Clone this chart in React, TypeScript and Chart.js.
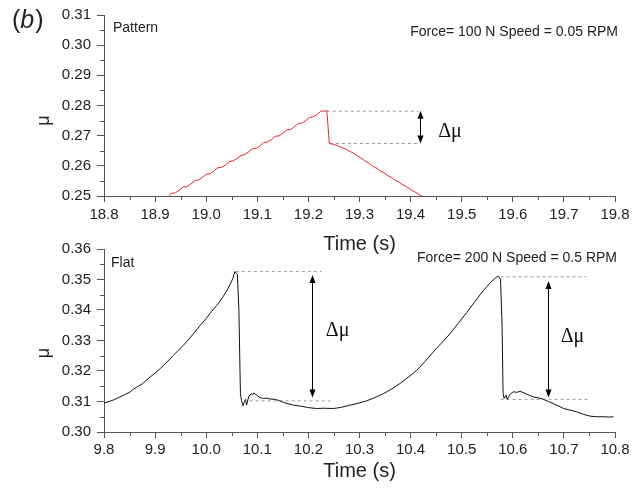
import React, { useEffect, useRef } from "react";
import { Chart, registerables } from "chart.js";

Chart.register(...registerables);

// ---------- data: panel (b) top, "Pattern" ----------
const patternTime = [
  18.927, 18.932, 18.94, 18.948, 18.955, 18.962, 18.97, 18.978, 18.985, 18.992,
  19.0, 19.008, 19.015, 19.022, 19.03, 19.038, 19.045, 19.052, 19.06, 19.068,
  19.075, 19.082, 19.09, 19.098, 19.105, 19.112, 19.12, 19.128, 19.135, 19.142,
  19.15, 19.158, 19.165, 19.172, 19.18, 19.188, 19.195, 19.202, 19.21, 19.218,
  19.225, 19.23, 19.236, 19.238, 19.241, 19.25, 19.258, 19.265, 19.272, 19.28,
  19.288, 19.295, 19.302, 19.31, 19.318, 19.325, 19.332, 19.34, 19.348, 19.355,
  19.362, 19.37, 19.378, 19.385, 19.392, 19.4, 19.408, 19.415, 19.422,
];
const patternMu = [
  0.2502, 0.2508, 0.2511, 0.252, 0.253, 0.2531, 0.254, 0.2551, 0.2553, 0.2561,
  0.2572, 0.2574, 0.2583, 0.2593, 0.2595, 0.2603, 0.2614, 0.2616, 0.2624, 0.2635,
  0.2637, 0.2645, 0.2656, 0.2658, 0.2666, 0.2677, 0.2679, 0.2687, 0.2698, 0.2699,
  0.2708, 0.2719, 0.272, 0.2729, 0.274, 0.2742, 0.275, 0.276, 0.2763, 0.2771,
  0.2782, 0.2781, 0.2783, 0.274, 0.2674, 0.2671, 0.2666, 0.2661, 0.2656, 0.2649,
  0.2642, 0.2634, 0.2627, 0.2617, 0.2609, 0.26, 0.2594, 0.2584, 0.2577, 0.2568,
  0.2562, 0.2552, 0.2546, 0.2537, 0.2531, 0.2521, 0.2514, 0.2506, 0.25,
];

// ---------- data: panel (b) bottom, "Flat" ----------
const flatTime = [
  9.8, 9.81, 9.82, 9.831, 9.84, 9.85, 9.857, 9.865, 9.875, 9.89,
  9.9, 9.91, 9.923, 9.935, 9.945, 9.955, 9.965, 9.975, 9.988, 10.0,
  10.01, 10.02, 10.03, 10.04, 10.047, 10.052, 10.056, 10.061, 10.064, 10.067,
  10.069, 10.072, 10.075, 10.077, 10.079, 10.083, 10.088, 10.091, 10.093, 10.096,
  10.099, 10.105, 10.112, 10.118, 10.125, 10.135, 10.143, 10.151, 10.16, 10.171,
  10.184, 10.2, 10.216, 10.23, 10.249, 10.265, 10.281, 10.297, 10.314, 10.33,
  10.347, 10.363, 10.379, 10.395, 10.412, 10.428, 10.444, 10.46, 10.477, 10.493,
  10.51, 10.526, 10.542, 10.555, 10.568, 10.572, 10.576, 10.579, 10.581, 10.583,
  10.587, 10.589, 10.595, 10.601, 10.607, 10.614, 10.62, 10.627, 10.633, 10.64,
  10.65, 10.66, 10.67, 10.679, 10.69, 10.699, 10.712, 10.725, 10.738, 10.751,
  10.765, 10.777, 10.79, 10.797,
];
const flatMu = [
  0.3095, 0.31, 0.3106, 0.3115, 0.3122, 0.313, 0.314, 0.3148, 0.3158, 0.318,
  0.3193, 0.3208, 0.3229, 0.325, 0.3267, 0.3284, 0.3302, 0.3322, 0.3349, 0.3372,
  0.3394, 0.3414, 0.3436, 0.3462, 0.3485, 0.3503, 0.3526, 0.3517, 0.34, 0.3126,
  0.3104, 0.3086, 0.31, 0.3107, 0.3088, 0.3115, 0.3126, 0.3122, 0.3128, 0.3124,
  0.3121, 0.3113, 0.311, 0.3111, 0.3108, 0.3107, 0.3103, 0.3097, 0.3093, 0.3088,
  0.3085, 0.308, 0.3077, 0.3078, 0.3077, 0.3081, 0.3088, 0.3094, 0.3102, 0.3113,
  0.3126, 0.3141, 0.3159, 0.3179, 0.3202, 0.3231, 0.3262, 0.3291, 0.3322, 0.3356,
  0.3392, 0.3428, 0.3463, 0.3488, 0.3508, 0.351, 0.3501, 0.335, 0.3126, 0.311,
  0.3121, 0.3107, 0.3124, 0.3132, 0.313, 0.3133, 0.313, 0.3124, 0.312, 0.3115,
  0.3112, 0.3107, 0.31, 0.3093, 0.3085, 0.3077, 0.3072, 0.3066, 0.3058, 0.3052,
  0.305, 0.305, 0.3049, 0.305,
];

// ---------- tick labels ----------
const patternXTicks = [18.8, 18.9, 19.0, 19.1, 19.2, 19.3, 19.4, 19.5, 19.6, 19.7, 19.8];
const patternYTicks = [0.25, 0.26, 0.27, 0.28, 0.29, 0.3, 0.31];
const flatXTicks = [9.8, 9.9, 10.0, 10.1, 10.2, 10.3, 10.4, 10.5, 10.6, 10.7, 10.8];
const flatYTicks = [0.3, 0.31, 0.32, 0.33, 0.34, 0.35, 0.36];

// ---------- Δμ annotations: dashed levels [x0, x1, μ], arrows [x, μtop, μbottom], labels [x, μ] ----------
const patternDashes = [
  [19.236, 19.415, 0.2781],
  [19.242, 19.415, 0.2674],
];
const patternArrows = [[19.419, 0.2783, 0.2674]];
const patternDeltaLabels = [[19.454, 0.2712]];

const flatDashes = [
  [10.058, 10.226, 0.3526],
  [10.085, 10.246, 0.3102],
  [10.576, 10.744, 0.3509],
  [10.576, 10.751, 0.3107],
];
const flatArrows = [
  [10.208, 0.3515, 0.3113],
  [10.6695, 0.3495, 0.3113],
];
const flatDeltaLabels = [
  [10.234, 0.3333],
  [10.6937, 0.3311],
];

const SANS = "'Liberation Sans', Arial, Helvetica, sans-serif";
const SERIF = "'Liberation Serif', 'Times New Roman', serif";
const AXIS = "#555";
const TEXT = "#222";

const decorPlugin = {
  id: "decor",
  afterDatasetsDraw(chart: any, _args: any, opts: any) {
    const ctx = chart.ctx;
    const xs = chart.scales.x;
    const ys = chart.scales.y;
    const area = chart.chartArea;
    ctx.save();
    // minor ticks
    ctx.strokeStyle = AXIS;
    ctx.lineWidth = 1;
    ctx.beginPath();
    const xt = opts.xTicks;
    for (let i = 0; i < xt.length - 1; i++) {
      const px = Math.round(xs.getPixelForValue((xt[i] + xt[i + 1]) / 2)) + 0.5;
      ctx.moveTo(px, area.bottom);
      ctx.lineTo(px, area.bottom + 4);
    }
    const yt = opts.yTicks;
    for (let i = 0; i < yt.length - 1; i++) {
      const py = Math.round(ys.getPixelForValue((yt[i] + yt[i + 1]) / 2)) + 0.5;
      ctx.moveTo(area.left, py);
      ctx.lineTo(area.left - 4, py);
    }
    ctx.stroke();

    // arrows
    ctx.strokeStyle = "#000";
    ctx.fillStyle = "#000";
    const head = 8;
    const hw = 3;
    for (const [x, yTop, yBot] of opts.arrows) {
      const px = Math.round(xs.getPixelForValue(x)) + 0.5;
      const pt = ys.getPixelForValue(yTop);
      const pb = ys.getPixelForValue(yBot);
      ctx.beginPath();
      ctx.moveTo(px, pt + head - 1);
      ctx.lineTo(px, pb - head + 1);
      ctx.stroke();
      ctx.beginPath();
      ctx.moveTo(px, pt);
      ctx.lineTo(px - hw, pt + head);
      ctx.lineTo(px + hw, pt + head);
      ctx.closePath();
      ctx.fill();
      ctx.beginPath();
      ctx.moveTo(px, pb);
      ctx.lineTo(px - hw, pb - head);
      ctx.lineTo(px + hw, pb - head);
      ctx.closePath();
      ctx.fill();
    }

    // Δμ labels
    ctx.font = `20px ${SERIF}`;
    ctx.textBaseline = "middle";
    ctx.textAlign = "left";
    ctx.fillStyle = "#111";
    for (const [x, y] of opts.deltaLabels) {
      ctx.fillText("Δμ", xs.getPixelForValue(x), ys.getPixelForValue(y));
    }

    // panel labels
    ctx.fillStyle = TEXT;
    ctx.font = `14px ${SANS}`;
    ctx.textAlign = "left";
    ctx.fillText(opts.name, area.left + opts.nameDx, area.top + opts.nameDy);
    ctx.textAlign = "right";
    ctx.fillText(opts.condition, area.right + opts.condDx, area.top + opts.condDy);

    if (opts.panel) {
      ctx.textAlign = "left";
      ctx.font = `25px ${SANS}`;
      let x = 12;
      const y = 21;
      ctx.fillText("(", x, y);
      x += ctx.measureText("(").width;
      ctx.font = `italic 25px ${SANS}`;
      ctx.fillText("b", x, y);
      x += ctx.measureText("b").width + 1;
      ctx.font = `25px ${SANS}`;
      ctx.fillText(")", x, y);
    }
    ctx.restore();
  },
};

function buildConfig(p: any) {
  const main = {
    data: p.time.map((t: number, i: number) => ({ x: t, y: p.mu[i] })),
    borderColor: p.color,
    borderWidth: 1,
    pointRadius: 0,
    tension: 0,
    fill: false,
    order: 0,
  };
  const dashes = p.dashes.map(([x0, x1, y]: number[]) => ({
    data: [
      { x: x0, y },
      { x: x1, y },
    ],
    borderColor: "#9a9a9a",
    borderWidth: 1,
    borderDash: [3, 3],
    pointRadius: 0,
    fill: false,
    order: 1,
  }));
  return {
    type: "line",
    data: { datasets: [main, ...dashes] },
    options: {
      responsive: false,
      animation: false,
      events: [],
      layout: { padding: { top: 14, right: 25, bottom: 0, left: 0 }, autoPadding: false },
      plugins: {
        legend: { display: false },
        tooltip: { enabled: false },
        decor: {
          xTicks: p.xTicks,
          yTicks: p.yTicks,
          arrows: p.arrows,
          deltaLabels: p.deltaLabels,
          name: p.name,
          nameDx: p.nameDx,
          nameDy: p.nameDy,
          condition: p.condition,
          condDx: p.condDx,
          condDy: p.condDy,
          panel: p.panel,
        },
      },
      scales: {
        x: {
          type: "linear",
          min: p.xTicks[0],
          max: p.xTicks[p.xTicks.length - 1],
          afterBuildTicks: (s: any) => {
            s.ticks = p.xTicks.map((v: number) => ({ value: v }));
          },
          afterFit: (s: any) => {
            s.height = p.xHeight;
          },
          grid: { drawOnChartArea: false, drawTicks: true, tickLength: 6, color: AXIS, tickColor: AXIS },
          border: { display: true, color: AXIS, width: 1 },
          ticks: {
            padding: p.xPad,
            autoSkip: false,
            maxRotation: 0,
            font: { family: SANS, size: 15 },
            color: TEXT,
            callback: (v: any) => Number(v).toFixed(1),
          },
          title: {
            display: true,
            text: "Time (s)",
            font: { family: SANS, size: 20 },
            color: TEXT,
            padding: { top: 0, bottom: p.xTitlePad },
          },
        },
        y: {
          type: "linear",
          min: p.yTicks[0],
          max: p.yTicks[p.yTicks.length - 1],
          afterBuildTicks: (s: any) => {
            s.ticks = p.yTicks.map((v: number) => ({ value: v }));
          },
          afterFit: (s: any) => {
            s.width = 104;
          },
          grid: { drawOnChartArea: false, drawTicks: true, tickLength: 7, color: AXIS, tickColor: AXIS },
          border: { display: true, color: AXIS, width: 1 },
          ticks: {
            padding: 6,
            autoSkip: false,
            font: { family: SANS, size: 15 },
            color: TEXT,
            callback: (v: any) => Number(v).toFixed(2),
          },
          title: {
            display: true,
            text: p.yTitle,
            font: { family: SANS, size: 18 },
            color: TEXT,
            padding: { top: 33, bottom: 0 },
          },
        },
      },
    },
    plugins: [decorPlugin],
  };
}

function Panel({ top, height, params }: { top: number; height: number; params: any }) {
  const ref = useRef<HTMLCanvasElement | null>(null);
  useEffect(() => {
    if (!ref.current) return;
    const chart = new Chart(ref.current, buildConfig(params) as any);
    return () => chart.destroy();
  }, []);
  return (
    <canvas
      ref={ref}
      width={640}
      height={height}
      style={{ position: "absolute", left: 0, top, width: 640, height }}
    />
  );
}

export default function App() {
  const patternParams = {
    time: patternTime,
    mu: patternMu,
    color: "#e8252b",
    xTicks: patternXTicks,
    yTicks: patternYTicks,
    dashes: patternDashes,
    arrows: patternArrows,
    deltaLabels: patternDeltaLabels,
    xHeight: 64,
    xPad: 4,
    xTitlePad: 4,
    yTitle: "μ      ",
    name: "Pattern",
    nameDx: 9,
    nameDy: 13,
    condition: "Force= 100 N Speed = 0.05 RPM",
    condDx: 3,
    condDy: 17,
    panel: true,
  };
  const flatParams = {
    time: flatTime,
    mu: flatMu,
    color: "#111111",
    xTicks: flatXTicks,
    yTicks: flatYTicks,
    dashes: flatDashes,
    arrows: flatArrows,
    deltaLabels: flatDeltaLabels,
    xHeight: 61,
    xPad: 3,
    xTitlePad: 10,
    yTitle: "μ     ",
    name: "Flat",
    nameDx: 7,
    nameDy: 14,
    condition: "Force= 200 N Speed = 0.5 RPM",
    condDx: 2,
    condDy: 9,
    panel: false,
  };
  return (
    <div style={{ position: "absolute", left: 0, top: 0, width: 640, height: 493, background: "#fff" }}>
      <Panel top={0} height={260} params={patternParams} />
      <Panel top={234} height={259} params={flatParams} />
    </div>
  );
}
